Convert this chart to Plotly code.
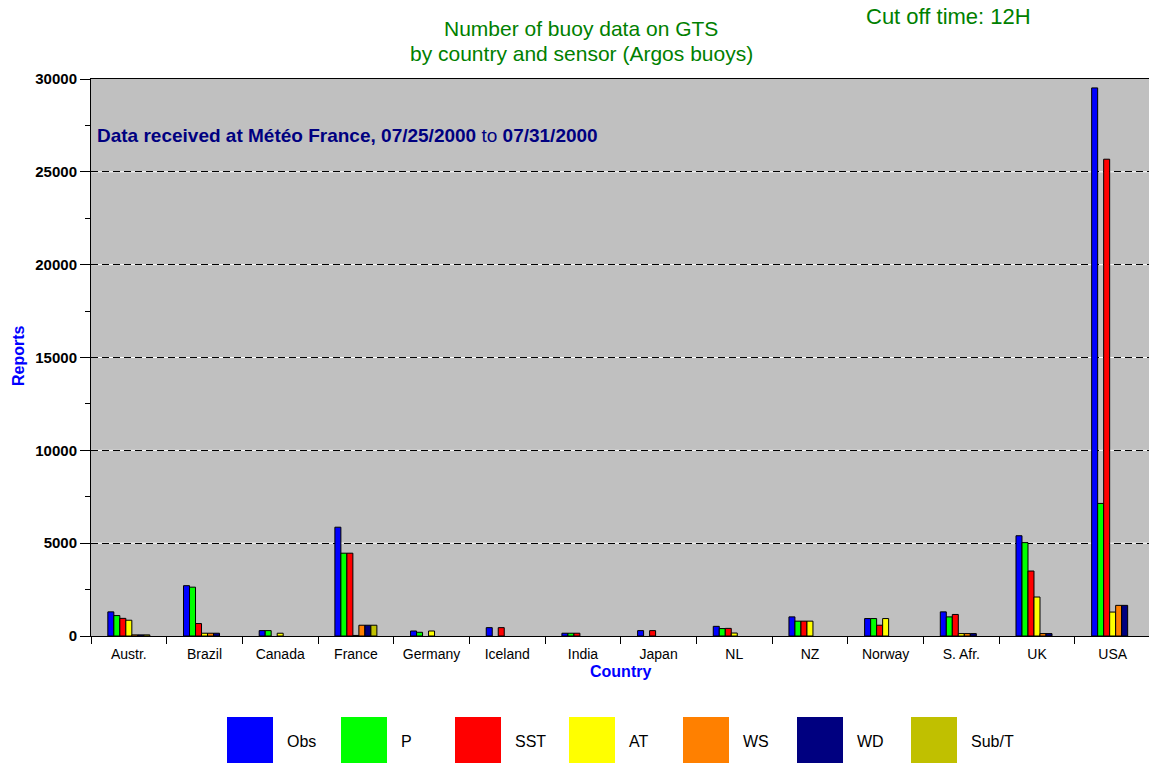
import plotly.graph_objects as go

# Reports per country and sensor
countries = ["Austr.", "Brazil", "Canada", "France", "Germany", "Iceland", "India",
             "Japan", "NL", "NZ", "Norway", "S. Afr.", "UK", "USA"]
obs = [1300, 2710, 290, 5860, 270, 450, 150, 290, 520, 1030, 940, 1300, 5400, 29520]
p = [1100, 2630, 290, 4460, 200, 0, 150, 0, 400, 800, 940, 1030, 5030, 7140]
sst = [950, 670, 0, 4460, 0, 450, 150, 290, 410, 800, 580, 1160, 3500, 25680]
at = [850, 150, 150, 30, 270, 0, 0, 0, 160, 800, 940, 130, 2100, 1290]
ws = [60, 150, 0, 580, 0, 0, 0, 0, 0, 0, 0, 130, 130, 1650]
wd = [60, 150, 0, 580, 0, 0, 0, 0, 0, 0, 0, 130, 130, 1650]
subt = [60, 0, 0, 580, 0, 0, 0, 0, 0, 0, 0, 0, 0, 0]

sensor_names = ["Obs", "P", "SST", "AT", "WS", "WD", "Sub/T"]
sensor_values = [obs, p, sst, at, ws, wd, subt]
sensor_colors = ["#0000FF", "#00FF00", "#FF0000", "#FFFF00", "#FF8000", "#000080", "#C0C000"]

y_ticks = [0, 5000, 10000, 15000, 20000, 25000, 30000]

W, H = 1149, 763
ML, MR, MT, MB = 91, 0, 79, 127
PW, PH = W - ML - MR, H - MT - MB


def px_x(x):
    return (x - ML) / PW


def px_y(y):
    return (H - MB - y) / PH


ARIAL = "Liberation Sans, Arial, sans-serif"
GREEN = "#008000"
BLUE = "#0000FF"
NAVY = "#000080"

fig = go.Figure()
for name, vals, col in zip(sensor_names, sensor_values, sensor_colors):
    # empty sensors get no bar at all (no outline on the axis)
    fig.add_trace(go.Bar(
        x=countries, y=[v if v else None for v in vals], name=name,
        marker=dict(color=col, line=dict(color="black", width=1)),
        showlegend=False,
    ))

# white band behind each dashed grid line
shapes = []
for v in y_ticks[1:-1]:
    shapes.append(dict(type="line", xref="paper", yref="y", x0=0, x1=1, y0=v, y1=v,
                       line=dict(color="white", width=1), layer="below"))

# legend: large swatches with labels
annotations = []
for i, (name, col) in enumerate(zip(sensor_names, sensor_colors)):
    x0 = 227 + 114 * i
    shapes.append(dict(type="rect", xref="paper", yref="paper",
                       x0=px_x(x0), x1=px_x(x0 + 46), y0=px_y(717), y1=px_y(765),
                       fillcolor=col, line=dict(width=0)))
    annotations.append(dict(text=name, xref="paper", yref="paper",
                            x=px_x(x0 + 58), y=px_y(741), xanchor="left", yanchor="middle",
                            showarrow=False, font=dict(family=ARIAL, size=16, color="black")))

annotations += [
    dict(text="Number of buoy data on GTS", xref="paper", yref="paper",
         x=px_x(581), y=px_y(29), xanchor="center", yanchor="middle", showarrow=False,
         font=dict(family=ARIAL, size=21, color=GREEN)),
    dict(text="by country and sensor (Argos buoys)", xref="paper", yref="paper",
         x=px_x(581), y=px_y(54), xanchor="center", yanchor="middle", showarrow=False,
         font=dict(family=ARIAL, size=21, color=GREEN)),
    dict(text="Cut off time: 12H", xref="paper", yref="paper",
         x=px_x(948), y=px_y(16), xanchor="center", yanchor="middle", showarrow=False,
         font=dict(family=ARIAL, size=22, color=GREEN)),
    dict(text="<b>Data received at Météo France, 07/25/2000</b> to <b>07/31/2000</b>",
         xref="paper", yref="paper", x=px_x(95), y=px_y(135), xanchor="left",
         yanchor="middle", showarrow=False,
         font=dict(family=ARIAL, size=19, color=NAVY)),
    dict(text="<b>Country</b>", xref="paper", yref="paper",
         x=px_x(620), y=px_y(671), xanchor="center", yanchor="middle", showarrow=False,
         font=dict(family=ARIAL, size=16, color=BLUE)),
    dict(text="<b>Reports</b>", xref="paper", yref="paper", textangle=-90,
         x=px_x(18), y=px_y(356), xanchor="center", yanchor="middle", showarrow=False,
         font=dict(family=ARIAL, size=16, color=BLUE)),
]

fig.update_layout(
    width=W, height=H,
    margin=dict(l=ML, r=MR, t=MT, b=MB),
    paper_bgcolor="white",
    plot_bgcolor="#C0C0C0",
    barmode="group",
    bargap=0.445,
    bargroupgap=0,
    shapes=shapes,
    annotations=annotations,
    xaxis=dict(
        type="category",
        range=[-0.5, 13.48],
        showgrid=False,
        showline=True, linecolor="black", linewidth=1, mirror=True,
        ticks="outside", tickson="boundaries", ticklen=7, tickcolor="black",
        ticklabelstandoff=5,
        tickfont=dict(family=ARIAL, size=14, color="black"),
        fixedrange=True,
    ),
    xaxis2=dict(
        overlaying="x", anchor="y", type="linear",
        range=[-0.5, 13.48],
        tickvals=[i + 0.5 for i in range(len(countries) - 1)],
        showticklabels=False, ticks="inside", ticklen=7, tickcolor="black",
        showgrid=False, showline=False, zeroline=False,
    ),
    yaxis=dict(
        range=[0, 30000],
        tickvals=y_ticks,
        ticktext=[str(v) for v in y_ticks],
        showgrid=True, gridcolor="black", gridwidth=1, griddash="7px,4px",
        showline=True, linecolor="black", linewidth=1,
        zeroline=False,
        ticks="outside", ticklen=10, tickcolor="black",
        minor=dict(dtick=2500, ticks="outside", ticklen=5, tickcolor="black", showgrid=False),
        tickfont=dict(family=ARIAL, size=15, color="black", weight="bold"),
        fixedrange=True,
    ),
)

fig.write_html("out.html")
